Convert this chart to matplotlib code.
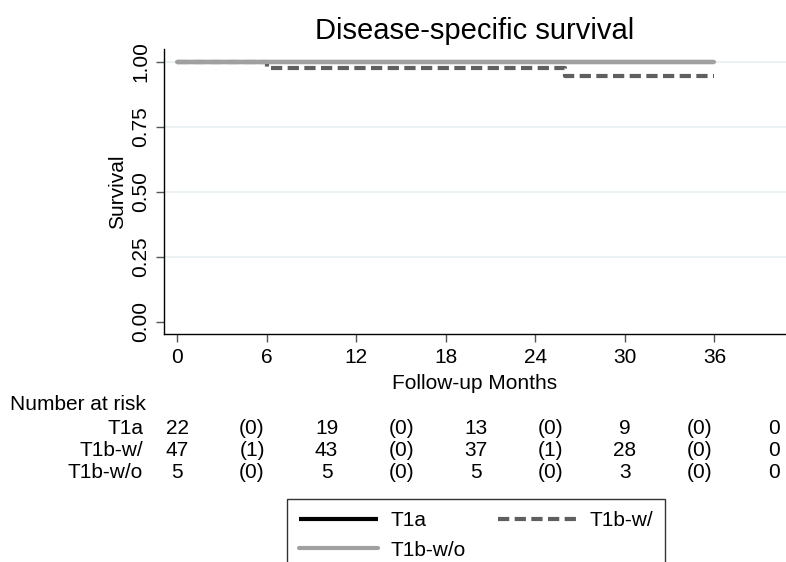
import matplotlib
matplotlib.use("Agg")
import matplotlib.pyplot as plt
import matplotlib.transforms as mtransforms

plt.rcParams['font.family'] = ['Liberation Sans', 'DejaVu Sans']

# Kaplan-Meier step data
t1a_time = [0, 36]
t1a_surv = [1.0, 1.0]
t1bw_time = [0, 6, 26, 36]
t1bw_surv = [1.0, 0.977, 0.945, 0.945]
t1bwo_time = [0, 36]
t1bwo_surv = [1.0, 1.0]

# Number-at-risk table
risk_times = [0, 5, 10, 15, 20, 25, 30, 35, 40]
risk_rows = ['T1a', 'T1b-w/', 'T1b-w/o']
risk_t1a = ['22', '(0)', '19', '(0)', '13', '(0)', '9', '(0)', '0']
risk_t1bw = ['47', '(1)', '43', '(0)', '37', '(1)', '28', '(0)', '0']
risk_t1bwo = ['5', '(0)', '5', '(0)', '5', '(0)', '3', '(0)', '0']

x_ticks = [0, 6, 12, 18, 24, 30, 36]
y_ticks = [0.0, 0.25, 0.50, 0.75, 1.0]

W, H = 786, 562
fig = plt.figure(figsize=(W / 100, H / 100), dpi=100)
ax = fig.add_axes([164 / W, 1 - 334 / H, 1 - 164 / W, (334 - 49) / H])

ax.set_xlim(-0.9, 40.8)
ax.set_ylim(-0.047, 1.049)

for y in [0.25, 0.5, 0.75, 1.0]:
    ax.axhline(y, color='#e8f0f2', lw=1.2, zorder=0)

ax.plot(t1a_time, t1a_surv, drawstyle='steps-post', color='black', lw=3,
        label='T1a', zorder=2, solid_capstyle='butt')
ax.plot(t1bw_time, t1bw_surv, drawstyle='steps-post', color='#5f5f5f', lw=3,
        dashes=(2.7, 1.3), label='T1b-w/', zorder=3)
ax.plot(t1bwo_time, t1bwo_surv, drawstyle='steps-post', color='#a0a0a0', lw=3,
        label='T1b-w/o', zorder=4, solid_capstyle='round')

ax.set_xticks(x_ticks)
ax.set_yticks(y_ticks)
ax.set_yticklabels(['0.00', '0.25', '0.50', '0.75', '1.00'], rotation=90, va='center')
ax.tick_params(axis='both', labelsize=15, length=6, width=1, color='#555555')
ax.tick_params(axis='x', pad=4)
ax.tick_params(axis='y', pad=4)

for s in ['top', 'right']:
    ax.spines[s].set_visible(False)
for s in ['left', 'bottom']:
    ax.spines[s].set_linewidth(1)

ax.set_xlabel('Follow-up Months', fontsize=15, labelpad=5)
ax.set_ylabel('Survival', fontsize=15, labelpad=3)
ax.set_title('Disease-specific survival', fontsize=21, pad=7)

# Risk table
trans = mtransforms.blended_transform_factory(ax.transData, fig.transFigure)
fig.text(10 / W, 1 - 405 / H, 'Number at risk', fontsize=15, ha='left', va='center')
row_y = [428, 450, 472]
for label, vals, yy in zip(risk_rows, [risk_t1a, risk_t1bw, risk_t1bwo], row_y):
    fig.text(143 / W, 1 - yy / H, label, fontsize=15, ha='right', va='center')
    for t, v in zip(risk_times, vals):
        ax.text(t, 1 - yy / H, v, transform=trans, fontsize=15,
                ha='center', va='center', clip_on=False)

handles, labels = ax.get_legend_handles_labels()
order = [0, 2, 1]
leg = fig.legend([handles[i] for i in order], [labels[i] for i in order],
                 loc='upper left', bbox_to_anchor=(287 / W, 1 - 499 / H),
                 ncol=2, fontsize=15, frameon=True, fancybox=False,
                 edgecolor='black', handlelength=3.8, handletextpad=0.58,
                 columnspacing=1.55, borderpad=0.58, labelspacing=0.5,
                 borderaxespad=0)
leg.get_frame().set_linewidth(1)

fig.savefig('out.png', dpi=100)
